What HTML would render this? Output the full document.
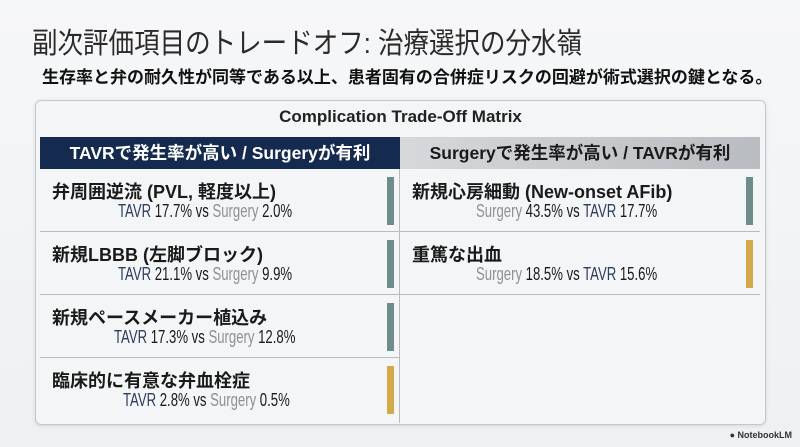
<!DOCTYPE html>
<html><head><meta charset="utf-8"><style>
body{margin:0;width:800px;height:447px;background:linear-gradient(#f6f7f8,#eef0f2);font-family:"Liberation Sans","Noto Sans CJK JP",sans-serif;position:relative;overflow:hidden;color:#1a1a1a}
.a{position:absolute}
h1{position:absolute;left:32px;top:20px;margin:0;font-size:29px;font-weight:400;color:#2a2a2a;transform:scaleX(0.88);transform-origin:left;white-space:nowrap}
.sub{left:42px;top:63px;font-size:17px;font-weight:700;color:#111;white-space:nowrap}
.panel{left:35px;top:100px;width:729px;height:323px;border:1px solid #c4c8cc;border-radius:6px;background:#f4f5f6;box-shadow:0 1px 4px rgba(0,0,0,.1)}
.ptitle{left:35px;width:731px;top:107px;text-align:center;font-size:17px;font-weight:700;color:#222}
.hl{left:40px;top:137px;width:360px;height:32px;background:#142a4e;color:#fff;font-size:17.5px;font-weight:700;text-align:center;line-height:32px}
.hr{left:400px;top:137px;width:360px;height:32px;background:linear-gradient(90deg,#d6d8db,#b9bcc0);color:#1a1a1a;font-size:17.5px;font-weight:700;text-align:center;line-height:32px}
.cell{border-bottom:1px solid #b8bcc0;box-sizing:border-box}
.lab{font-size:18px;font-weight:700;position:absolute;left:12px;top:9px;white-space:nowrap}
.val{font-size:18px;position:absolute;top:32px;white-space:nowrap;transform:scaleX(0.73);transform-origin:left}
.t{color:#2b3e5c}.s{color:#8d9196}
.bar{position:absolute;width:7px;top:8px;height:48px}
</style></head><body>
<h1>副次評価項目のトレードオフ: 治療選択の分水嶺</h1>
<div class="a sub">生存率と弁の耐久性が同等である以上、患者固有の合併症リスクの回避が術式選択の鍵となる。</div>
<div class="a panel"></div>
<div class="a ptitle">Complication Trade-Off Matrix</div>
<div class="a hl">TAVRで発生率が高い / Surgeryが有利</div>
<div class="a hr">Surgeryで発生率が高い / TAVRが有利</div>
<div class="a" style="left:399px;top:169px;width:1px;height:254px;background:#b8bcc0"></div>

<div class="a cell" style="left:40px;top:169px;width:359px;height:63px"><div class="lab">弁周囲逆流 (PVL, 軽度以上)</div><div class="val" style="left:78px"><span class="t">TAVR</span> 17.7% vs <span class="s">Surgery</span> 2.0%</div><div class="bar" style="left:347px;background:#6e8c8c"></div></div>
<div class="a cell" style="left:40px;top:232px;width:359px;height:63px"><div class="lab">新規LBBB (左脚ブロック)</div><div class="val" style="left:78px"><span class="t">TAVR</span> 21.1% vs <span class="s">Surgery</span> 9.9%</div><div class="bar" style="left:347px;background:#6e8c8c"></div></div>
<div class="a cell" style="left:40px;top:295px;width:359px;height:63px"><div class="lab">新規ペースメーカー植込み</div><div class="val" style="left:74px"><span class="t">TAVR</span> 17.3% vs <span class="s">Surgery</span> 12.8%</div><div class="bar" style="left:347px;background:#6e8c8c"></div></div>
<div class="a" style="left:40px;top:358px;width:359px;height:63px"><div class="lab">臨床的に有意な弁血栓症</div><div class="val" style="left:83px"><span class="t">TAVR</span> 2.8% vs <span class="s">Surgery</span> 0.5%</div><div class="bar" style="left:347px;background:#d4aa48"></div></div>

<div class="a cell" style="left:400px;top:169px;width:360px;height:63px"><div class="lab">新規心房細動 (New-onset AFib)</div><div class="val" style="left:76px"><span class="s">Surgery</span> 43.5% vs <span class="t">TAVR</span> 17.7%</div><div class="bar" style="left:346px;background:#6e8c8c"></div></div>
<div class="a cell" style="left:400px;top:232px;width:360px;height:63px"><div class="lab">重篤な出血</div><div class="val" style="left:76px"><span class="s">Surgery</span> 18.5% vs <span class="t">TAVR</span> 15.6%</div><div class="bar" style="left:346px;background:#d4aa48"></div></div>

<div class="a" style="right:8px;top:430px;font-size:9px;font-weight:700;color:#333">● NotebookLM</div>
</body></html>
